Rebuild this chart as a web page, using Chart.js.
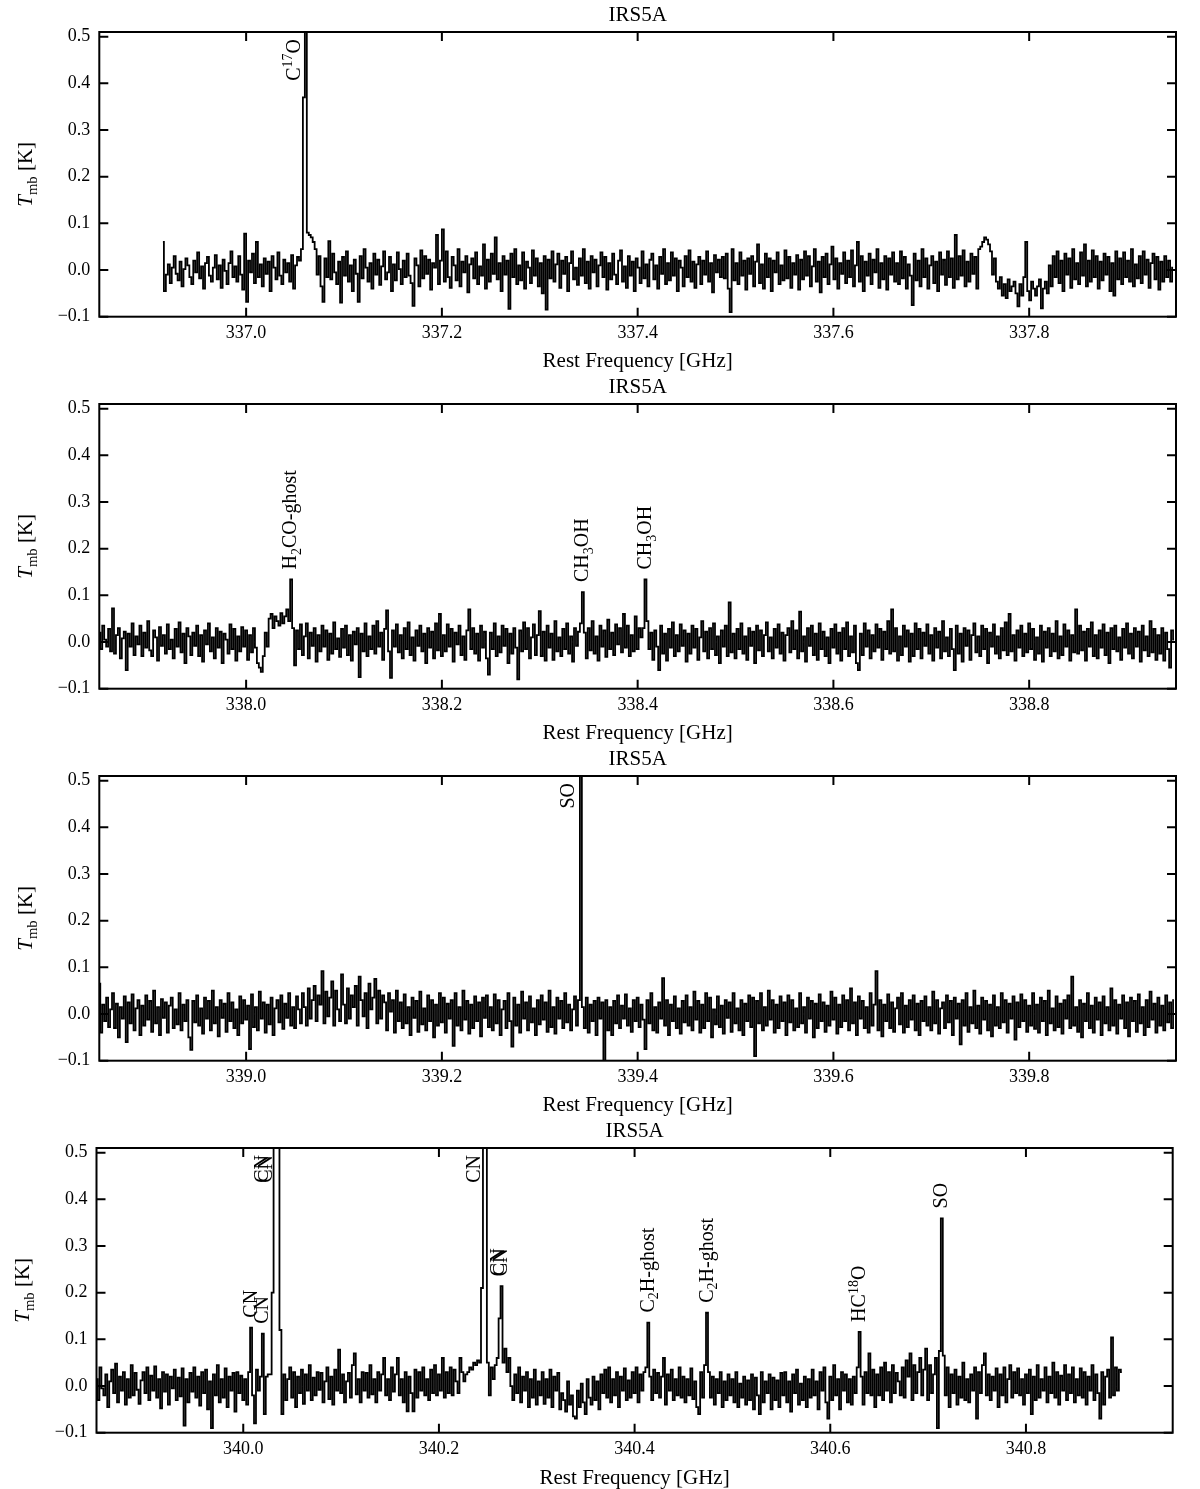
<!DOCTYPE html>
<html><head><meta charset="utf-8">
<script src="https://cdn.jsdelivr.net/npm/chart.js@4.4.1/dist/chart.umd.min.js"></script>
<style>
html,body{margin:0;padding:0;background:#fff;}
#wrap{position:relative;width:1200px;height:1489px;background:#fff;}
canvas{position:absolute;left:0;}
</style></head><body>
<div id="wrap">
<canvas id="c1" width="1200" height="372" style="top:0px;width:1200px;height:372px"></canvas>
<canvas id="c2" width="1200" height="372" style="top:372px;width:1200px;height:372px"></canvas>
<canvas id="c3" width="1200" height="372" style="top:744px;width:1200px;height:372px"></canvas>
<canvas id="c4" width="1200" height="373" style="top:1116px;width:1200px;height:373px"></canvas>
</div>
<script>
// ---------------- data ----------------
const panelTitle = 'IRS5A';
const xAxisTitle = 'Rest Frequency [GHz]';
const yAxisTitle = [{t:'T',k:0,it:true},{t:'mb',k:-1},{t:' [K]',k:0}];
const yTickValues = [-0.1, 0.0, 0.1, 0.2, 0.3, 0.4, 0.5];
const yMin = -0.1, yMax = 0.51;

// Panel 1  (Tmb in mK, channel width 2 MHz)
const p1Freq0 = 336.915, p1ChanWidth = 0.002;
const p1Range = [336.85, 337.95];
const p1Ticks = [337.0, 337.2, 337.4, 337.6, 337.8];
const p1TmbmK = [
60,-45,-10,12,-28,5,30,-8,-22,18,-35,2,25,10,-15,-30,20,-5,38,-18,8,-40,15,28,-12,
-25,5,32,-20,10,-38,22,-2,-30,15,40,-15,8,-25,30,-10,-42,78,-68,20,-5,35,-28,60,-15,
12,-35,25,-8,18,-45,30,5,-20,38,-12,-30,22,-5,15,-25,32,-40,10,28,20,45,370,950,80,
75,70,60,45,-10,30,-35,-68,25,-15,62,-20,35,-5,-30,18,-70,28,-12,40,-25,10,-45,22,-8,
-68,30,-18,45,5,-25,15,-40,35,-10,22,-32,8,40,-20,-5,28,-45,12,-22,38,2,-30,20,-15,
35,-12,-28,-77,25,10,-35,42,-18,30,-8,22,-42,15,5,75,-30,20,87,-25,40,-15,-38,28,10,
-22,45,-35,18,-5,30,-48,12,25,-18,38,-30,8,-12,55,-40,22,-25,35,-8,70,-20,15,-45,30,
-10,20,-83,35,-15,45,-30,10,-22,38,-40,18,5,-28,42,-12,25,-35,15,-50,30,-85,22,-18,40,
-25,12,35,-38,20,-8,28,-45,15,40,-20,5,-32,25,-12,45,-28,18,-40,30,-5,22,-35,10,38,
-15,28,-42,15,-20,35,-10,-30,20,42,-25,8,-38,30,-12,18,-45,25,5,-28,40,-18,12,-35,22,
35,-20,10,-40,28,-8,45,-30,15,-22,38,-12,25,-45,20,5,-35,30,-15,42,-25,18,-38,12,28,
-30,20,-10,40,-25,15,-48,32,-5,22,-15,28,-18,35,-40,-90,45,-22,15,-30,38,-12,20,-42,25,
-8,30,-35,18,55,-28,12,-40,35,-15,25,-45,20,-5,38,-30,10,-22,42,-18,28,-38,15,-10,32,
-42,22,-20,40,-12,30,-35,8,45,-25,18,-48,28,-15,35,-30,12,50,-20,25,-40,15,-8,38,-28,
20,-15,42,-35,10,60,-25,30,-45,18,-12,35,-30,22,-5,45,-38,15,-20,30,-42,25,-10,38,-25,
15,-30,40,-18,28,-40,12,-12,-75,35,-22,20,-35,45,-15,25,-40,10,30,-28,18,-45,38,-10,22,
-32,40,-15,25,-38,75,-20,30,-12,42,-35,18,-25,35,-8,28,-40,45,50,60,70,65,55,40,-10,
25,-25,-40,-15,-55,-30,-60,-20,-45,-35,-25,-50,-78,-30,-55,-15,60,-45,-65,-25,-40,-55,-35,-20,-82,
-40,-25,-50,10,-35,30,-15,40,-28,20,-45,35,-10,25,-38,45,-20,15,-30,38,-12,55,-35,20,-25,
42,-15,30,-40,18,-22,35,-10,28,-45,15,-55,40,-20,25,-30,38,-15,20,-25,45,-35,12,-18,30,
-28,40,-10,22,-38,15,35,-20,28,-42,18,-25,30,-15,20,-25,5
];
const p1LineNames = ['C^{17}O'];
const p1LineFreqs = [337.061];
const p1LineLabelY = [null];

// Panel 2
const p2Freq0 = 337.850, p2ChanWidth = 0.002;
const p2Range = [337.85, 338.95];
const p2Ticks = [338.0, 338.2, 338.4, 338.6, 338.8];
const p2TmbmK = [
20,-15,35,5,-10,28,-20,72,-25,15,30,-35,8,22,-60,18,-10,40,-28,12,-5,35,-30,20,-12,
45,-18,-30,25,10,-40,32,-8,15,-25,38,-15,5,-35,28,-10,42,-22,18,-45,30,12,-28,20,-8,
35,-30,15,-42,25,-5,40,-20,10,-35,30,-12,22,-45,18,5,-25,38,-15,28,-40,12,-20,32,-10,
25,-38,15,-22,30,-12,-45,-55,-64,-30,20,-10,50,60,30,55,45,35,62,40,55,70,45,134,30,
-50,25,-15,38,-28,12,40,-35,20,-8,30,-42,15,-20,35,-10,25,-38,18,-25,42,-15,8,-32,28,
-12,35,-28,15,-40,22,-5,30,-75,18,-20,40,-30,12,-15,35,-25,45,-10,20,-38,28,68,-20,-77,
25,-10,38,-22,15,-35,30,-15,42,-28,10,-40,25,-8,35,-20,18,-45,30,-12,22,-35,40,-18,60,
-30,15,-20,38,-10,28,-42,20,-5,35,-28,12,-38,25,70,-15,30,-25,18,-40,35,-12,22,-35,-70,
20,-15,40,-30,12,-22,35,-8,28,-45,18,-25,30,-12,-80,25,-20,42,-15,30,-35,10,38,-28,15,
66,-30,22,-40,35,-12,18,-38,45,-20,10,-30,28,-15,40,-25,12,-42,30,-8,22,40,107,20,-35,
30,-18,45,-25,12,-40,35,-10,25,-32,48,-15,20,-28,38,-5,30,-22,60,-12,35,-30,15,-20,55,
-15,30,10,30,134,45,-15,20,-38,25,-10,-60,35,-25,18,-40,28,-12,42,-30,15,-20,38,-8,25,
-42,18,-25,35,-12,28,-38,10,45,-20,22,-35,30,-15,40,-28,12,-45,25,-10,35,-30,85,-22,18,
-35,28,-15,40,-25,12,-38,30,-8,22,-45,35,-18,25,-30,15,42,-20,10,-35,28,-12,38,-25,20,
-40,15,30,-22,45,-15,25,-35,65,-20,12,-42,30,-8,35,-28,18,-38,40,-15,22,-30,10,-45,28,
-12,38,-25,20,-40,30,-15,42,-30,12,-22,35,-45,-60,18,-28,40,-10,25,-35,15,-20,38,-12,28,
-38,22,-15,45,-25,70,-20,30,-40,12,-28,35,-10,25,-42,18,-30,40,-15,28,-35,20,-8,38,-25,
15,-40,30,-12,22,-35,45,-20,10,-30,28,-15,-60,35,-25,18,-42,30,-8,25,-38,15,40,-22,12,
-30,35,-15,28,-45,20,-10,38,-25,12,-35,30,-18,42,-28,60,-20,15,-40,25,-12,35,-30,18,-22,
40,-15,28,-38,10,-25,35,-42,22,-12,30,-30,18,-20,45,-35,12,-28,38,-10,25,-40,15,-22,70,
-25,35,-18,22,-40,28,-10,42,-30,15,-35,25,-12,38,-28,20,-45,30,-15,35,-20,10,-38,28,-12,
40,-25,18,-35,30,-10,22,-42,35,-18,12,-30,45,-22,28,-38,15,-25,30,-40,20,-15,-55,25,5
];
const p2LineNames = ['H_2CO-ghost', 'CH_3OH', 'CH_3OH'];
const p2LineFreqs = [338.0457, 338.3446, 338.4087];
const p2LineLabelY = [0.134, 0.107, 0.134];

// Panel 3
const p3Freq0 = 338.850, p3ChanWidth = 0.002;
const p3Range = [338.85, 339.95];
const p3Ticks = [339.0, 339.2, 339.4, 339.6, 339.8];
const p3TmbmK = [
65,-40,20,-15,35,-28,10,45,-30,22,-50,15,-10,38,-60,25,-20,42,-35,12,30,-45,18,-25,40,
-12,28,-38,50,-20,15,-45,32,-8,25,-40,18,35,-30,10,-22,45,-35,20,-15,30,-50,-77,28,-18,
40,-25,12,-42,35,-10,28,-35,50,-20,15,-48,30,-8,22,-38,45,-15,25,-30,10,-45,38,-20,30,
-12,18,-75,42,-28,15,-35,48,-10,25,-40,20,-22,35,-45,12,30,-18,40,-32,22,-8,45,-25,15,
-30,38,10,-20,45,15,-25,55,-10,30,60,-15,40,20,92,-20,48,-5,35,70,-25,50,10,-15,85,
20,-20,55,-10,40,15,60,-25,80,30,-5,45,-30,65,10,35,75,-20,50,-10,40,25,-35,45,5,
30,-40,50,-15,25,-30,42,-20,15,-45,35,-8,28,-38,48,-22,12,-35,40,-15,30,-50,20,-25,45,
-18,35,-40,22,-10,30,-68,45,-25,15,-35,50,-12,28,-42,20,-30,38,-15,25,-48,35,-8,40,-28,
15,-35,42,-20,30,-45,10,28,-30,45,-15,-70,35,-25,20,-40,48,-10,25,-35,38,-18,12,-45,30,
-22,40,-12,25,-38,50,-28,15,-42,35,-10,28,-30,45,-18,20,-35,10,38,-25,30,700,15,-30,35,
-40,20,-15,28,-45,35,-10,25,-130,30,-35,15,-45,28,-20,40,-30,18,-10,42,-25,12,-38,30,-15,
35,-28,20,-12,-75,30,-20,45,-35,15,-40,25,-10,77,-25,30,-45,20,-15,38,-30,12,-42,28,-18,
40,-25,15,-35,48,-12,28,-40,20,-30,45,-15,35,-50,10,-22,38,-28,18,-42,30,-8,25,-38,45,
-20,12,-35,30,-45,22,-15,40,-28,35,-90,28,-20,45,-35,15,-25,50,-12,30,-40,20,-30,38,-15,
25,-45,40,-18,30,-35,12,-28,45,-20,15,-40,35,-10,28,-50,22,-30,42,-15,25,-38,18,-25,48,
-12,35,-42,20,-28,40,-15,30,-35,55,-20,25,-45,38,-10,28,-30,15,-40,45,-25,20,92,-35,30,
-48,20,-15,42,-30,25,-38,12,35,-22,45,-40,18,-28,30,-12,40,-35,22,-45,28,-15,38,-25,15,
-35,48,-20,30,-42,12,25,-30,40,-18,28,-45,35,-10,22,-65,30,-25,45,-38,15,-20,50,-30,18,
-42,35,-12,28,-35,20,-48,40,-25,15,-30,45,-18,30,-40,22,-10,38,-55,25,-28,42,-15,30,-38,
18,-25,45,-32,20,-40,35,-15,28,-45,50,-20,12,-35,38,-28,22,-42,30,-10,40,-30,80,-25,15,
-38,30,-50,22,-15,45,-30,18,-40,35,-12,25,-45,38,-20,15,-35,55,-25,30,-42,20,-10,40,-30,
25,-48,35,-15,28,-38,42,-20,15,-45,30,-28,48,-12,22,-40,35,-25,18,-35,40,-18,25,-30,30
];
const p3LineNames = ['SO'];
const p3LineFreqs = [339.3415];
const p3LineLabelY = [null];

// Panel 4
const p4Freq0 = 339.850, p4ChanWidth = 0.002;
const p4Range = [339.85, 340.95];
const p4Ticks = [340.0, 340.2, 340.4, 340.6, 340.8];
const p4TmbmK = [
15,-30,40,-5,-20,25,-45,10,35,-15,48,-35,20,-10,30,-40,15,-25,45,-20,28,-8,-38,12,30,
-15,40,-30,22,-10,42,-25,15,-48,30,-12,25,-40,20,-5,35,-30,18,-22,38,-85,15,-35,28,-12,
40,-25,20,-42,30,-15,35,-50,10,-90,25,-20,45,-35,15,-25,38,-45,20,-10,28,-55,30,-15,22,
-30,15,-40,30,125,-20,-80,35,-10,20,112,-60,20,25,25,200,1300,1100,1200,120,-60,25,-30,15,40,
-25,30,-45,20,-15,35,-38,25,-10,45,-30,18,-20,30,-8,28,-35,10,40,-28,20,-40,35,-10,78,
-15,25,-35,10,28,-25,45,70,-18,15,-35,30,-10,28,-25,45,-18,15,-35,30,-10,25,60,-20,15,
-30,40,-12,25,60,-20,15,-35,30,-54,20,-15,-54,35,-25,30,-10,40,-20,15,-30,35,-15,45,-20,
25,-10,60,-25,30,-15,40,-20,35,10,-15,60,30,10,25,30,40,35,50,45,55,50,210,1000,900,
50,-20,40,15,45,60,145,214,50,80,30,60,0,-30,25,-15,40,-35,20,-10,30,-45,15,-25,35,
-40,10,-20,30,-38,15,-25,35,-45,20,-10,28,-50,-15,-30,-55,10,-40,-20,-65,-70,-10,-45,5,-35,
-60,15,-25,-40,20,-30,10,-50,25,-15,35,-25,40,-35,15,-20,30,-45,20,-10,38,-30,12,-25,30,
-15,40,-35,25,-10,30,40,136,20,-30,35,-15,28,-25,20,60,-40,25,-10,35,-30,15,-20,40,-25,
20,-35,15,-20,38,-28,10,-45,-60,30,-25,45,157,30,-25,20,-40,15,-15,30,-45,10,-30,25,-20,
15,-35,30,-45,5,-25,20,-40,12,-30,25,-50,18,-20,-60,30,-35,10,-15,25,-50,18,-30,12,-45,
28,-20,30,-35,10,-55,25,-15,35,-40,5,-30,20,-45,15,-25,35,-20,10,-50,30,-10,40,-35,-70,
20,-30,45,-20,15,-50,30,-10,25,-35,15,-40,20,-15,40,116,20,-40,30,-15,70,-20,35,-45,25,
-20,40,-30,50,-10,30,-35,45,-15,28,10,-20,40,-25,55,20,70,-30,45,-15,30,60,-20,35,80,
-30,45,-15,25,60,-90,75,359,65,-20,40,-45,25,-15,35,-40,20,-25,50,-30,15,-35,25,-10,40,
-70,30,-15,45,70,-20,25,-30,20,-10,38,-45,25,-20,40,-35,15,45,-25,30,-15,38,-20,15,-40,
25,-15,35,-60,20,-30,45,-25,15,-10,40,-35,20,-15,50,-25,30,-40,22,-10,45,-30,25,-15,40,
-35,15,-20,38,-25,30,-40,20,-10,45,-30,25,-15,-70,30,-40,20,35,-25,104,-20,40,-10,35,30
];
const p4LineNames = ['CN','CN','CN','CN','CN','CN','CN','C_2H-ghost','C_2H-ghost','HC^{18}O','SO'];
const p4LineFreqs = [340.0085, 340.0199, 340.0315, 340.0355, 340.2478, 340.2618, 340.2649, 340.4143, 340.4747, 340.6306, 340.7142];
const p4LineLabelY = [0.125, 0.112, null, null, null, 0.214, 0.214, 0.136, 0.157, 0.116, 0.359];

// ---------------- layout / style ----------------
const FONT = "'Liberation Serif', 'DejaVu Serif', serif";
const panelLayout = [
  {id:'c1', left:99.3, right:1176, h:372},
  {id:'c2', left:99.3, right:1176, h:372},
  {id:'c3', left:99.3, right:1176, h:372},
  {id:'c4', left:96.5, right:1172.7, h:373}
];
const PLOT_TOP = 32, PLOT_BOTTOM = 316.7;

const panels = [
  {f0:p1Freq0, dw:p1ChanWidth, vals:p1TmbmK, range:p1Range, ticks:p1Ticks, names:p1LineNames, freqs:p1LineFreqs, ly:p1LineLabelY},
  {f0:p2Freq0, dw:p2ChanWidth, vals:p2TmbmK, range:p2Range, ticks:p2Ticks, names:p2LineNames, freqs:p2LineFreqs, ly:p2LineLabelY},
  {f0:p3Freq0, dw:p3ChanWidth, vals:p3TmbmK, range:p3Range, ticks:p3Ticks, names:p3LineNames, freqs:p3LineFreqs, ly:p3LineLabelY},
  {f0:p4Freq0, dw:p4ChanWidth, vals:p4TmbmK, range:p4Range, ticks:p4Ticks, names:p4LineNames, freqs:p4LineFreqs, ly:p4LineLabelY}
];

function parseRich(s){
  const segs=[]; let i=0, buf='';
  const flush=()=>{ if(buf){segs.push({t:buf,k:0}); buf='';} };
  while(i<s.length){
    const c=s[i];
    if(c==='^'||c==='_'){
      flush();
      let t;
      if(s[i+1]==='{'){ const j=s.indexOf('}',i+2); t=s.slice(i+2,j); i=j+1; }
      else { t=s[i+1]; i+=2; }
      segs.push({t:t,k:c==='^'?1:-1});
    } else { buf+=c; i++; }
  }
  flush(); return segs;
}
function segFont(seg,size){
  const sz = seg.k ? size*0.7 : size;
  return (seg.it?'italic ':'') + sz.toFixed(1) + 'px ' + FONT;
}
// draws along local +x; mode: 'start' | 'end' | 'center'
function drawRich(ctx, segs, size, mode){
  let total=0; const w=[];
  segs.forEach(s=>{ ctx.font=segFont(s,size); const m=ctx.measureText(s.t).width; w.push(m); total+=m; });
  let x = mode==='end' ? -total : (mode==='center' ? -total/2 : 0);
  ctx.textAlign='left'; ctx.textBaseline='alphabetic';
  segs.forEach((s,i)=>{
    ctx.font=segFont(s,size);
    const dy = s.k>0 ? -0.38*size : (s.k<0 ? 0.24*size : 0);
    ctx.fillText(s.t, x, dy);
    x += w[i];
  });
}

function makePlugin(p){
  return {
    id:'spectrumDecor',
    afterDatasetsDraw(chart){
      const {ctx, chartArea:{left,right,top,bottom}, scales:{x,y}} = chart;
      ctx.save();
      ctx.fillStyle='#000'; ctx.strokeStyle='#000';
      // line labels
      p.names.forEach((nm,i)=>{
        const segs=parseRich(nm);
        const px=x.getPixelForValue(p.freqs[i]);
        const v=p.ly[i];
        ctx.save();
        if(v===null || v>yMax){
          ctx.translate(px-6, top+7);
          ctx.rotate(-Math.PI/2);
          drawRich(ctx, segs, 20, 'end');
        } else {
          ctx.translate(px+5, y.getPixelForValue(v)-10);
          ctx.rotate(-Math.PI/2);
          drawRich(ctx, segs, 20, 'start');
        }
        ctx.restore();
      });
      // frame + inward ticks
      ctx.lineWidth=2;
      ctx.beginPath();
      x.ticks.forEach(t=>{
        const px=x.getPixelForValue(t.value);
        ctx.moveTo(px,bottom); ctx.lineTo(px,bottom-9);
        ctx.moveTo(px,top); ctx.lineTo(px,top+9);
      });
      y.ticks.forEach(t=>{
        const py=y.getPixelForValue(t.value);
        ctx.moveTo(left,py); ctx.lineTo(left+9,py);
        ctx.moveTo(right,py); ctx.lineTo(right-9,py);
      });
      ctx.stroke();
      ctx.strokeRect(left,top,right-left,bottom-top);
      // title
      ctx.font='21px '+FONT; ctx.textAlign='center'; ctx.textBaseline='alphabetic';
      ctx.fillText(panelTitle,(left+right)/2, top-11.3);
      // y-axis title
      ctx.save();
      ctx.translate(left-67.3,(top+bottom)/2);
      ctx.rotate(-Math.PI/2);
      drawRich(ctx, yAxisTitle, 21, 'center');
      ctx.restore();
      ctx.restore();
    }
  };
}

panels.forEach((p,k)=>{
  const L=panelLayout[k];
  const pts=p.vals.map((v,i)=>({x:p.f0+i*p.dw, y:v/1000}));
  new Chart(document.getElementById(L.id),{
    type:'line',
    data:{datasets:[{data:pts, borderColor:'#000', borderWidth:1.8, pointRadius:0, stepped:'middle', fill:false}]},
    options:{
      responsive:false, animation:false, events:[],
      layout:{padding:{left:0,right:1200-L.right,top:PLOT_TOP,bottom:0}},
      plugins:{legend:{display:false}, tooltip:{enabled:false}, title:{display:false}},
      scales:{
        x:{type:'linear', min:p.range[0], max:p.range[1],
           afterBuildTicks:s=>{ s.ticks=p.ticks.map(v=>({value:v})); },
           ticks:{callback:v=>Number(v).toFixed(1), color:'#000', font:{family:FONT,size:18}, padding:6, maxRotation:0, autoSkip:false},
           grid:{display:false, drawTicks:false}, border:{display:false},
           title:{display:true, text:xAxisTitle, color:'#000', font:{family:FONT,size:21,lineHeight:1}, padding:{top:0,bottom:0}},
           afterFit:s=>{ s.height = L.h - PLOT_BOTTOM; }
        },
        y:{type:'linear', min:yMin, max:yMax,
           afterBuildTicks:s=>{ s.ticks=yTickValues.map(v=>({value:v})); },
           ticks:{callback:v=>(v<0?'\u2212':'')+Math.abs(v).toFixed(1), color:'#000', font:{family:FONT,size:18}, padding:9, autoSkip:false},
           grid:{display:false, drawTicks:false}, border:{display:false},
           afterFit:s=>{ s.width = L.left; }
        }
      }
    },
    plugins:[makePlugin(p)]
  });
});
</script>
</body></html>
